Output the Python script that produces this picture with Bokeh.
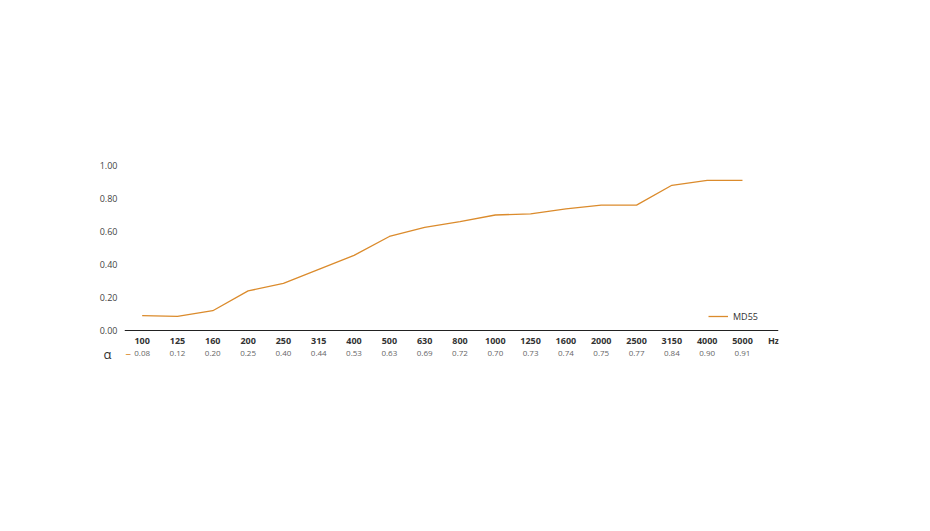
from bokeh.plotting import figure
from bokeh.models import (Range1d, FixedTicker, LinearAxis, NumeralTickFormatter,
                          Span, Legend, LegendItem, ColumnDataSource)
from bokeh.core.properties import value
from bokeh.embed import file_html
from bokeh.resources import INLINE

freqs = ["100", "125", "160", "200", "250", "315", "400", "500", "630", "800",
         "1000", "1250", "1600", "2000", "2500", "3150", "4000", "5000"]
curve = [0.09, 0.085, 0.12, 0.24, 0.285, 0.37, 0.455, 0.57, 0.625, 0.66,
         0.70, 0.707, 0.737, 0.76, 0.76, 0.88, 0.91, 0.91]
alpha_vals = ["0.08", "0.12", "0.20", "0.25", "0.40", "0.44", "0.53", "0.63", "0.69",
              "0.72", "0.70", "0.73", "0.74", "0.75", "0.77", "0.84", "0.90", "0.91"]
series_name = "MD55"
unit_label = "Hz"
row_label = "α"
y_ticks = [0.0, 0.2, 0.4, 0.6, 0.8, 1.0]

LINE = "#DB8B2C"
FONT = "Open Sans"

idx = list(range(len(freqs)))
src = ColumnDataSource(dict(x=idx, y=curve))
rows = ColumnDataSource(dict(x=idx, y=[0] * len(idx), f=freqs, a=alpha_vals))

PX_PER_UNIT = 165.0           # vertical pixels for 1.0 of the value axis
TABLE_PX = 35                 # room below the zero line for the two text rows
y_min = -TABLE_PX / PX_PER_UNIT
alpha_row_y = -23 / PX_PER_UNIT

p = figure(width=914, height=515, output_backend="svg", toolbar_location=None,
           x_range=Range1d(-0.5, 18.02), y_range=Range1d(y_min, 1.0),
           min_border_left=124, min_border_right=136, min_border_top=165,
           min_border_bottom=150, x_axis_location=None, y_axis_location=None)
p.outline_line_color = None
p.xgrid.visible = False
p.ygrid.visible = False

r = p.line("x", "y", source=src, line_color=LINE, line_width=1.3)

# zero line (x axis line)
p.add_layout(Span(location=0, dimension="width", line_color="#222222", line_width=1.2))

# frequency row and alpha row
p.text("x", "y", text="f", source=rows, y_offset=10, text_align="center",
       text_baseline="middle", text_font=value(FONT), text_font_size="9px",
       text_font_style="bold", text_color="#333333")
p.text("x", "y", text="a", source=rows, y_offset=22.5, text_align="center",
       text_baseline="middle", text_font=value(FONT), text_font_size="8px",
       text_color="#666666")
p.text(x=[17.88], y=[0], text=[unit_label], y_offset=10, text_align="center",
       text_baseline="middle", text_font=value(FONT), text_font_size="9px",
       text_font_style="bold", text_color="#333333")
# short key dash before the alpha row
p.text(x=[-0.5], y=[0], text=["–"], x_offset=1, y_offset=22, text_align="left",
       text_baseline="middle", text_font=value(FONT), text_font_size="11px",
       text_color=LINE)

# y axis
ya = LinearAxis(ticker=FixedTicker(ticks=y_ticks), formatter=NumeralTickFormatter(format="0.00"))
ya.axis_line_color = None
ya.major_tick_line_color = None
ya.major_tick_out = 0
ya.major_tick_in = 0
ya.minor_tick_line_color = None
ya.major_label_text_font = FONT
ya.major_label_text_font_size = "9px"
ya.major_label_text_color = "#444444"
ya.major_label_standoff = 7
p.add_layout(ya, "left")

# row label axis (α)
ya2 = LinearAxis(ticker=FixedTicker(ticks=[alpha_row_y]))
ya2.major_label_overrides = {alpha_row_y: row_label}
ya2.axis_line_color = None
ya2.major_tick_line_color = None
ya2.major_tick_out = 0
ya2.major_tick_in = 0
ya2.minor_tick_line_color = None
ya2.major_label_text_font = FONT
ya2.major_label_text_font_size = "13px"
ya2.major_label_text_color = "#333333"
ya2.major_label_standoff = -15
p.add_layout(ya2, "left")

legend = Legend(items=[LegendItem(label=series_name, renderers=[r])],
                location=(584, 7 + TABLE_PX), padding=0, margin=0, border_line_color=None,
                background_fill_alpha=0, glyph_width=20, glyph_height=14,
                label_standoff=5, label_text_font=FONT, label_text_font_size="9px",
                label_text_color="#333333")
p.add_layout(legend, "center")

open("out.html", "w").write(file_html(p, INLINE))
